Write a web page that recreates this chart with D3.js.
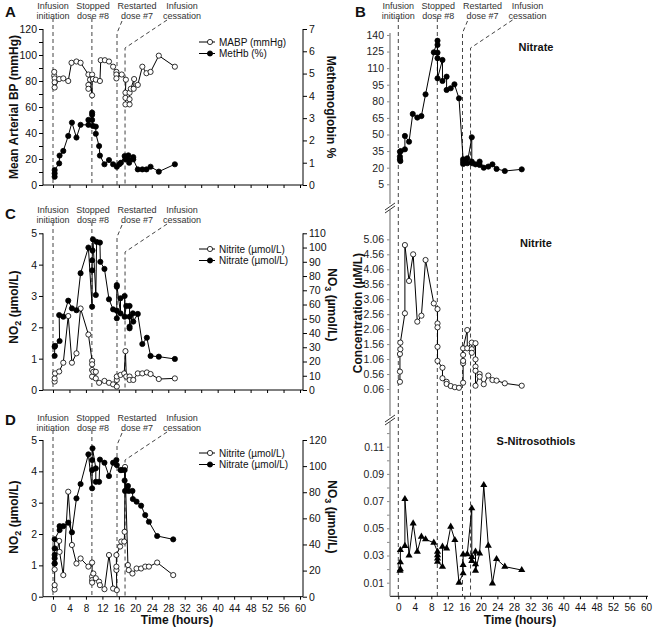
<!DOCTYPE html>
<html><head><meta charset="utf-8">
<script src="https://cdn.jsdelivr.net/npm/d3@7"></script>
<style>body{margin:0;background:#fff} text{font-family:"Liberation Sans",Arial,sans-serif;fill:#111}</style>
</head><body><svg id="c" width="656" height="629"></svg>
<script>
// ---------------- DATA ----------------
const eventTimes = [0, 9.45, 15.55, 17.5];
const eventLabels = [["Infusion","initiation"],["Stopped","dose #8"],["Restarted","dose #7"],["Infusion","cessation"]];
const timeTicks = d3.range(0, 61, 4);

// Panel A
const A_mabp = [[0.3,84],[0.3,87],[0.4,82],[0.4,79],[0.4,75],[1.5,81.5],[2.5,82],[3.7,80],[4.5,94],[5.7,95],[6.7,94],[8.6,85],[8.6,77],[8.6,74],[9.0,81],[9.5,69],[9.5,85],[9.7,81.5],[10.4,81],[11.4,80],[11.6,96],[12.6,96],[13.6,95],[14.6,91],[15.4,87],[15.4,85],[15.4,82],[16.7,85],[17.7,81],[17.6,71],[17.6,67],[17.6,62],[18.6,62],[18.6,66],[18.6,71],[18.9,74],[19.7,81.5],[19.6,74],[20.6,77],[21.7,91],[22.7,86],[23.7,87],[25.7,99.5],[29.6,91]];
const A_methb = [[0.4,0.37],[0.4,0.52],[0.4,0.67],[1.5,0.97],[1.6,1.32],[2.5,1.53],[3.7,2.2],[4.6,2.8],[5.7,2.13],[6.7,2.7],[8.6,2.7],[8.6,2.92],[9.5,2.92],[9.5,3.15],[9.5,3.25],[9.7,2.65],[10.4,2.62],[10.4,2.3],[11.2,1.75],[11.4,1.32],[12.5,0.93],[13.6,1.12],[14.6,0.93],[15.5,0.82],[16.1,0.93],[16.5,1.0],[17.4,1.3],[17.6,1.15],[18.3,1.33],[18.5,1.12],[18.5,1.0],[19.5,1.25],[19.5,1.15],[20.6,0.7],[21.7,0.7],[22.7,0.7],[23.7,0.82],[25.7,0.6],[29.6,0.93]];
const A_leftTicks = d3.range(0, 121, 10);
const A_rightTicks = d3.range(0, 8, 1);

// Panel C
const C_nitrite = [[0.4,0.27],[0.4,0.37],[0.5,0.53],[1.5,0.59],[2.5,0.87],[3.7,2.36],[4.6,0.87],[5.7,1.17],[6.7,2.6],[8.6,1.77],[9.5,0.93],[9.5,0.82],[9.5,0.64],[9.5,0.43],[9.8,0.58],[10.4,0.58],[10.4,0.37],[11.2,0.23],[12.5,0.29],[13.6,0.23],[14.6,0.18],[15.5,0.11],[15.5,0.32],[15.5,0.43],[16.4,0.48],[17.3,0.53],[17.6,1.24],[17.8,0.43],[18.6,0.43],[18.6,0.32],[19.5,0.32],[20.6,0.53],[21.7,0.53],[22.8,0.56],[23.7,0.51],[25.7,0.35],[29.6,0.37]];
const C_nitrate = [[0.4,24],[0.4,30.4],[0.5,31],[1.6,34.4],[1.5,52.6],[2.5,51.5],[3.7,62.7],[4.6,57.3],[5.7,56],[6.7,82],[8.6,100],[9.5,58.5],[9.5,84],[9.5,91],[9.6,98],[9.7,105.8],[10.4,66.7],[10.6,104],[11.4,103.5],[11.5,90],[12.5,85],[13.6,63.7],[14.6,56.6],[15.5,55.7],[15.5,50.3],[15.5,72.5],[15.5,73.7],[16.4,53.8],[16.4,64.4],[17.4,66],[17.4,51.5],[17.8,59],[18.6,59],[18.6,51.5],[18.6,44.5],[18.6,43.3],[19.4,53.8],[19.5,48],[20.6,53.4],[21.7,32.3],[22.8,36.7],[23.7,23.9],[25.7,23.4],[29.6,21.8]];
const C_leftTicks = d3.range(0, 6, 1);
const C_rightTicks = d3.range(0, 111, 10);

// Panel D
const D_nitrite = [[0.4,0.23],[0.4,0.37],[0.4,0.87],[0.4,1.06],[1.5,1.78],[1.6,1.43],[2.5,0.69],[3.7,3.35],[4.6,1.65],[5.7,1.06],[6.7,1.22],[8.6,0.96],[9.5,1.09],[9.5,0.64],[9.5,0.53],[9.5,0.45],[9.8,0.74],[10.4,0.59],[11.2,0.48],[11.4,0.37],[12.5,0.24],[13.6,1.33],[14.6,0.26],[15.5,0.21],[15.4,0.85],[15.4,0.96],[15.4,1.33],[16.3,1.6],[16.6,1.76],[17.3,1.76],[17.4,2.07],[17.5,4.14],[18.2,1.01],[18.4,0.85],[19.3,0.74],[20.3,0.9],[21.4,0.9],[22.4,0.96],[23.3,0.96],[25.3,1.09],[29.2,0.69]];
const D_nitrate = [[0.4,25.5],[0.4,29.4],[0.4,32],[0.4,37],[0.4,44],[1.6,51],[1.6,54],[2.5,54],[3.7,56.7],[4.6,49.3],[5.7,75.3],[6.7,86.3],[8.6,109],[9.5,83],[9.5,97],[9.5,104.7],[9.6,113.6],[10.4,98.3],[10.4,88],[11.2,88],[11.4,105],[12.5,102.6],[13.6,92.4],[14.6,102.6],[15.4,104.7],[15.5,100.8],[16.4,97],[16.7,97],[17.4,97],[17.4,89],[17.5,81],[18.2,84.8],[18.4,81],[19.3,81],[19.4,74.8],[20.3,72.8],[21.4,69.7],[22.4,62.5],[23.3,57.4],[25.3,46.5],[29.2,43.9]];
const D_leftTicks = d3.range(0, 6, 1);
const D_rightTicks = d3.range(0, 121, 20);

// Panel B
const B_nitrate = [[0.4,30],[0.4,27.6],[0.5,26],[0.4,34.5],[0.6,35],[1.6,36.6],[1.6,48.7],[2.6,43.5],[3.5,68.6],[4.6,65.3],[5.6,66.7],[6.6,86.3],[8.6,124.3],[9.5,134.8],[9.5,131],[9.5,124],[9.5,119],[9.5,100.8],[10.7,117.4],[10.7,98.4],[11.7,102.3],[11.7,90.3],[12.7,91.8],[13.6,95.4],[14.7,82.7],[15.7,27.6],[15.7,25.5],[15.7,23.4],[16.7,28.5],[16.7,24],[17.8,47.5],[17.8,25.5],[17.9,24],[18.7,23],[19.7,25.5],[19.7,22.5],[20.7,20],[21.8,21],[22.8,23],[23.8,18.9],[25.8,17],[29.9,18.5]];
const B_nitrite = [[0.4,0.30],[0.4,0.64],[0.4,1.23],[0.5,1.39],[0.5,1.61],[1.6,2.59],[1.6,4.87],[2.6,3.67],[3.6,4.56],[4.6,2.31],[5.6,2.51],[6.6,4.37],[8.6,2.92],[9.5,2.73],[9.5,2.25],[9.5,2.12],[9.5,1.47],[9.5,1.0],[10.7,0.77],[10.7,0.42],[11.7,0.30],[11.7,0.23],[12.7,0.16],[13.7,0.12],[14.7,0.10],[15.7,0.27],[15.7,0.92],[15.7,1.0],[15.7,1.2],[15.7,1.42],[16.7,2.03],[16.7,1.42],[17.8,1.61],[17.8,1.39],[17.8,1.27],[18.7,1.59],[18.7,1.05],[18.7,0.81],[18.7,0.67],[18.7,0.17],[19.7,0.56],[19.7,0.47],[20.7,0.22],[21.8,0.51],[22.8,0.36],[23.8,0.34],[25.8,0.25],[29.9,0.17]];
const B_sno = [[0.4,0.0188],[0.5,0.020],[0.5,0.025],[0.5,0.034],[1.6,0.037],[1.6,0.0715],[2.6,0.030],[3.6,0.0536],[4.6,0.0328],[5.6,0.0438],[6.6,0.0419],[8.6,0.0394],[9.5,0.0328],[9.5,0.0303],[9.5,0.0279],[9.5,0.0254],[10.7,0.0218],[10.7,0.0365],[11.7,0.0352],[12.7,0.0512],[13.7,0.0414],[14.7,0.010],[15.7,0.0169],[15.7,0.023],[15.7,0.0308],[16.7,0.031],[17.8,0.0647],[17.8,0.029],[17.8,0.026],[18.7,0.0328],[18.7,0.0237],[18.7,0.0188],[19.7,0.0316],[20.7,0.0818],[21.8,0.0372],[22.8,0.0095],[23.8,0.0274],[25.8,0.0218],[29.9,0.0193]];
const B_nitrateTicks = d3.range(5, 141, 15);
const B_nitriteTicks = d3.range(0, 11).map(i => +(0.06 + i * 0.5).toFixed(2));
const B_snoTicks = d3.range(1, 13).map(i => +(i * 0.01).toFixed(2));

// ---------------- DRAW ----------------
const svg = d3.select('#c');
const FF = '"Liberation Sans",Arial,sans-serif';

function text(x, y, s, opts = {}) {
  const t = svg.append('text').attr('x', x).attr('y', y).text(s)
    .attr('font-size', opts.size || 11)
    .attr('text-anchor', opts.anchor || 'start');
  if (opts.bold) t.attr('font-weight', 'bold');
  if (opts.fill) t.style('fill', opts.fill);
  if (opts.rotate) t.attr('transform', `rotate(${opts.rotate},${x},${y})`);
  return t;
}

function drawSeries(x, y, data, kind) {
  const g = svg.append('g');
  g.append('path').datum(data)
    .attr('d', d3.line().x(d => x(d[0])).y(d => y(d[1])))
    .attr('fill', 'none').attr('stroke', '#000').attr('stroke-width', 1);
  if (kind === 'tri') {
    g.selectAll('path.m').data(data).join('path').attr('class', 'm')
      .attr('d', d3.symbol(d3.symbolTriangle, 22))
      .attr('transform', d => `translate(${x(d[0])},${y(d[1])})`)
      .attr('fill', '#000');
  } else {
    g.selectAll('circle').data(data).join('circle')
      .attr('cx', d => x(d[0])).attr('cy', d => y(d[1])).attr('r', 2.6)
      .attr('fill', kind === 'open' ? '#fff' : '#000')
      .attr('stroke', '#000').attr('stroke-width', 0.8);
  }
}

function drawEvents(x, yc, bottom) {
  const g = svg.append('g').attr('stroke', '#444').attr('stroke-width', 1).attr('stroke-dasharray', '4,3').attr('fill', 'none');
  const x0 = x(eventTimes[0]), x1 = x(eventTimes[1]), x2 = x(eventTimes[2]), x3 = x(eventTimes[3]);
  g.append('line').attr('x1', x0).attr('x2', x0).attr('y1', yc + 12).attr('y2', bottom);
  g.append('line').attr('x1', x1).attr('x2', x1).attr('y1', yc + 12).attr('y2', bottom);
  g.append('path').attr('d', `M${x2 + 5},${yc + 15}L${x2},${yc + 27}L${x2},${bottom}`);
  g.append('path').attr('d', `M${x3 + 42},${yc + 14}L${x3},${yc + 42}L${x3},${bottom}`);
  const cx = [x0, x1 + 1, x2 + 20, x3 + 57];
  eventLabels.forEach((lab, i) => {
    text(cx[i], yc + 3, lab[0], {size: 9, anchor: 'middle', fill: '#333'});
    text(cx[i], yc + 12.5, lab[1], {size: 9, anchor: 'middle', fill: '#333'});
  });
}

function styleTicks(g, size, fill) {
  g.selectAll('text').attr('font-size', size).style('fill', fill || '#111').attr('font-family', FF);
}

function leftPanel(cfg) {
  const x = d3.scaleLinear([0, 60], [53, 300]);
  const yL = d3.scaleLinear([0, cfg.lmax], [cfg.bottom, cfg.top]);
  const yR = d3.scaleLinear([0, cfg.rmax], [cfg.bottom, cfg.top]);
  const gx = svg.append('g').attr('transform', `translate(0,${cfg.bottom})`)
    .call(d3.axisBottom(x).tickValues(timeTicks).tickSize(3).tickFormat(cfg.xlabels ? d3.format('d') : ''));
  gx.select('.domain').remove();
  gx.append('line').attr('x1', 43).attr('x2', 303).attr('stroke', '#000');
  styleTicks(gx, 10);
  gx.selectAll('text').attr('dy', '0.9em');
  const gl = svg.append('g').attr('transform', 'translate(43,0)')
    .call(d3.axisLeft(yL).tickValues(cfg.lticks).tickSize(4).tickPadding(2).tickFormat(d => cfg.lfmt(d)));
  gl.select('.domain').attr('d', `M0,${cfg.top}V${cfg.bottom}`);
  styleTicks(gl, 10.5);
  const gr = svg.append('g').attr('transform', 'translate(303,0)')
    .call(d3.axisRight(yR).tickValues(cfg.rticks).tickSize(4).tickPadding(2).tickFormat(d3.format('d')));
  gr.select('.domain').attr('d', `M0,${cfg.top}V${cfg.bottom}`);
  styleTicks(gr, 10.5);

  drawEvents(x, cfg.yc, cfg.bottom);
  drawSeries(x, yL, cfg.open, 'open');
  drawSeries(x, yR, cfg.filled, 'filled');

  [[cfg.legend[0], 'open', cfg.legY], [cfg.legend[1], 'filled', cfg.legY + 11.5]].forEach(([lab, kind, ly]) => {
    svg.append('line').attr('x1', 199).attr('x2', 215).attr('y1', ly).attr('y2', ly).attr('stroke', '#000');
    svg.append('circle').attr('cx', 210).attr('cy', ly).attr('r', 2.6)
      .attr('fill', kind === 'open' ? '#fff' : '#000').attr('stroke', '#000').attr('stroke-width', 0.8);
    text(219, ly + 3.5, lab, {size: 10});
  });
  text(5, cfg.letterY, cfg.letter, {size: 15, bold: true});
}

leftPanel({letter: 'A', letterY: 17, yc: 6, top: 29, bottom: 185, lmax: 120, rmax: 7,
  lticks: A_leftTicks, rticks: A_rightTicks, lfmt: d => d % 20 === 0 ? d : '',
  open: A_mabp, filled: A_methb, legend: ['MABP (mmHg)', 'MetHb (%)'], legY: 42, xlabels: false});
text(18, 107, 'Mean Arterial BP (mmHg)', {size: 12, bold: true, anchor: 'middle', rotate: -90});
text(327, 107, 'Methemoglobin %', {size: 12, bold: true, anchor: 'middle', rotate: 90});

leftPanel({letter: 'C', letterY: 219, yc: 210, top: 233.3, bottom: 390, lmax: 5, rmax: 110,
  lticks: C_leftTicks, rticks: C_rightTicks, lfmt: d => d,
  open: C_nitrite, filled: C_nitrate, legend: ['Nitrite (\u00b5mol/L)', 'Nitrate (\u00b5mol/L)'], legY: 249, xlabels: false});

leftPanel({letter: 'D', letterY: 425, yc: 418, top: 440, bottom: 596.7, lmax: 5, rmax: 120,
  lticks: D_leftTicks, rticks: D_rightTicks, lfmt: d => d,
  open: D_nitrite, filled: D_nitrate, legend: ['Nitrite (\u00b5mol/L)', 'Nitrate (\u00b5mol/L)'], legY: 453, xlabels: true});

function subLabel(x, y, base, sub, rest, rot) {
  const t = svg.append('text').attr('x', x).attr('y', y).attr('font-size', 12).attr('font-weight', 'bold')
    .attr('text-anchor', 'middle').attr('transform', `rotate(${rot},${x},${y})`);
  t.append('tspan').text(base);
  t.append('tspan').text(sub).attr('font-size', 9).attr('dy', 3);
  t.append('tspan').text(rest).attr('dy', -3);
}
subLabel(18, 307, 'NO', '2', ' (\u00b5mol/L)', -90);
subLabel(18, 517, 'NO', '2', ' (\u00b5mol/L)', -90);
subLabel(328, 305, 'NO', '3', ' (\u00b5mol/L)', 90);
subLabel(328, 517, 'NO', '3', ' (\u00b5mol/L)', 90);
text(177, 624, 'Time (hours)', {size: 12, bold: true, anchor: 'middle'});

// Panel B
(function () {
  const x = d3.scaleLinear([0, 60], [398.3, 646]);
  const bottom = 596.3;
  const yN3 = d3.scaleLinear([0, 140], [189.8, 189.8 - 140 * 1.106]);
  const yN2 = d3.scaleLinear([0, 5], [390.8, 390.8 - 5 * 29.93]);
  const yS = d3.scaleLinear([0, 0.11], [596.3, 596.3 - 0.11 * 1360]);
  const axX = 390;
  const gx = svg.append('g').attr('transform', `translate(0,${bottom})`)
    .call(d3.axisBottom(x).tickValues(timeTicks).tickSize(3).tickFormat(d3.format('d')));
  gx.select('.domain').remove();
  gx.append('line').attr('x1', axX).attr('x2', 648).attr('stroke', '#000');
  styleTicks(gx, 10);
  gx.selectAll('text').attr('dy', '0.9em');

  function yax(scale, ticks, fmt, y1, y2) {
    const g = svg.append('g').attr('transform', `translate(${axX},0)`)
      .call(d3.axisLeft(scale).tickValues(ticks).tickSize(3).tickFormat(fmt));
    g.select('.domain').remove();
    g.selectAll('.tick line').attr('stroke', '#888');
    styleTicks(g, 10.5, '#222');
    svg.append('line').attr('x1', axX).attr('x2', axX).attr('y1', y1).attr('y2', y2).attr('stroke', '#999').attr('stroke-width', 1.5);
  }
  yax(yN3, B_nitrateTicks, d3.format('d'), 33, 204);
  yax(yN2, B_nitriteTicks, d3.format('.2f'), 210, 416);
  yax(yS, B_snoTicks, d => (Math.round(d * 100) % 2 === 1 ? d3.format('.2f')(d) : ''), 422, bottom);
  [207, 419].forEach(by => {
    [0, 3].forEach(o => svg.append('line').attr('x1', axX - 5).attr('y1', by + 3 + o).attr('x2', axX + 5).attr('y2', by - 4 + o)
      .attr('stroke', '#333').attr('stroke-width', 1));
  });

  drawEvents(x, 6, bottom);
  drawSeries(x, yN3, B_nitrate, 'filled');
  drawSeries(x, yN2, B_nitrite, 'open');
  drawSeries(x, yS, B_sno, 'tri');

  text(355, 17, 'B', {size: 15, bold: true});
  text(536, 51, 'Nitrate', {size: 11, bold: true, anchor: 'middle'});
  text(536, 247, 'Nitrite', {size: 11, bold: true, anchor: 'middle'});
  text(536, 445, 'S-Nitrosothiols', {size: 11, bold: true, anchor: 'middle'});
  text(362, 313, 'Concentration (\u00b5M/L)', {size: 12, bold: true, anchor: 'middle', rotate: -90});
  text(520, 624, 'Time (hours)', {size: 12, bold: true, anchor: 'middle'});
})();
</script></body></html>
